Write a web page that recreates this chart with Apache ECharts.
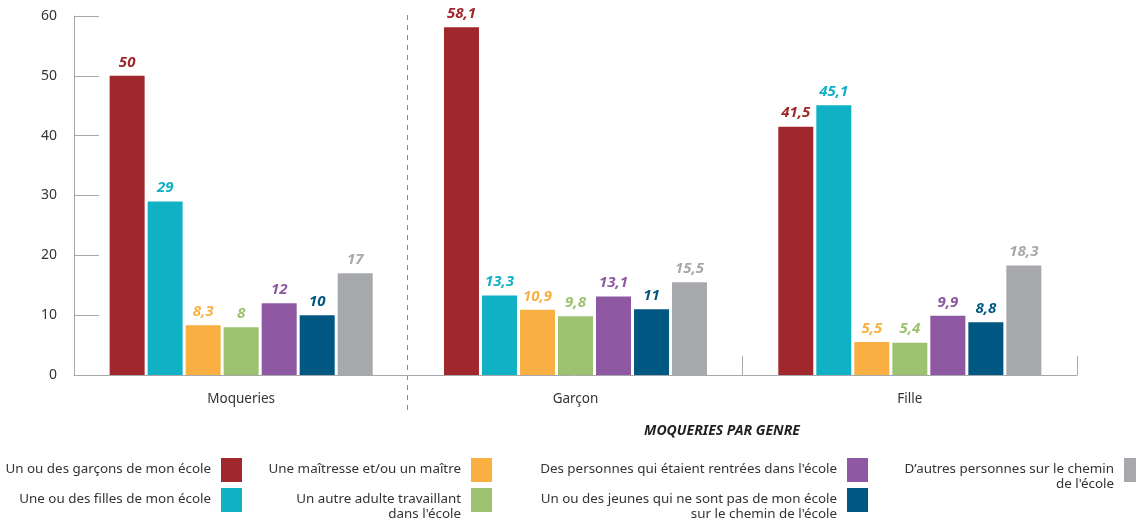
<!DOCTYPE html>
<html>
<head>
<meta charset="utf-8">
<script src="https://cdn.jsdelivr.net/npm/echarts@6/dist/echarts.min.js"></script>
<style>
  html, body { margin: 0; padding: 0; background: #fff; }
  #chart { width: 1136px; height: 520px; }
</style>
</head>
<body>
<div id="chart"></div>
<script>
const categories = ["Moqueries", "Garçon", "Fille"];

const seriesNames = [
  "Un ou des garçons de mon école",
  "Une ou des filles de mon école",
  "Une maîtresse et/ou un maître",
  "Un autre adulte travaillant\ndans l'école",
  "Des personnes qui étaient rentrées dans l'école",
  "Un ou des jeunes qui ne sont pas de mon école\nsur le chemin de l'école",
  "D’autres personnes sur le chemin\nde l'école"
];

const garcons = [50, 58.1, 41.5];
const filles = [29, 13.3, 45.1];
const maitres = [8.3, 10.9, 5.5];
const adultes = [8, 9.8, 5.4];
const intrus = [12, 13.1, 9.9];
const jeunes = [10, 11, 8.8];
const autres = [17, 15.5, 18.3];

const yTicks = [0, 10, 20, 30, 40, 50, 60];

const colors = ["#a0282d", "#10b1c5", "#f9af41", "#9dc26f", "#8e58a2", "#005782", "#a7a8ab"];
const values = [garcons, filles, maitres, adultes, intrus, jeunes, autres];

const FONT = "'Noto Sans', 'Open Sans', sans-serif";

// legend layout: column of each entry, row of each entry
const legendCol = [0, 0, 1, 1, 2, 2, 3];
const legendRow = [0, 1, 0, 1, 0, 1, 0];
const colX = [221, 471, 847, 1124];
const rowY = [458, 488];

const chart = echarts.init(document.getElementById("chart"), null, { renderer: "canvas" });

const legendGraphics = [];
seriesNames.forEach((name, i) => {
  const x = colX[legendCol[i]];
  const y = rowY[legendRow[i]];
  legendGraphics.push({
    type: "rect",
    shape: { x: x, y: y, width: 21, height: 24 },
    style: { fill: colors[i] },
    silent: true
  });
  legendGraphics.push({
    type: "text",
    x: x - 10,
    y: y + 12 - 8,
    style: {
      text: name,
      align: "right",
      verticalAlign: "top",
      lineHeight: 15,
      font: "13.4px " + FONT,
      fill: "#333"
    },
    silent: true
  });
});

const titleGraphic = {
  type: "text",
  x: 722,
  y: 431,
  style: {
    text: "MOQUERIES PAR GENRE",
    align: "center",
    verticalAlign: "middle",
    font: "italic bold 14px " + FONT,
    fill: "#231f20"
  },
  silent: true
};

const option = {
  animation: false,
  textStyle: { fontFamily: FONT },
  grid: { left: 74, right: 59, top: 16, bottom: 145, containLabel: false },
  xAxis: {
    type: "category",
    data: categories,
    axisLine: { lineStyle: { color: "#a6a8ab", width: 1 } },
    axisTick: {
      show: true,
      inside: true,
      length: 19,
      // the boundary after the first category gets the dashed separator instead
      interval: (idx) => idx !== 1,
      lineStyle: { color: "#a6a8ab" }
    },
    axisLabel: { color: "#333", fontSize: 13.5, margin: 17 }
  },
  yAxis: {
    type: "value",
    min: 0,
    max: 60,
    interval: 10,
    axisLine: { show: true, lineStyle: { color: "#a6a8ab" } },
    axisTick: { show: true, inside: true, length: 25, lineStyle: { color: "#a6a8ab" } },
    splitLine: { show: false },
    axisLabel: {
      color: "#333",
      fontSize: 14,
      margin: 17,
      formatter: (v) => (yTicks.includes(v) ? String(v) : "")
    }
  },
  series: seriesNames.map((name, i) => ({
    name: name,
    type: "bar",
    data: values[i],
    barWidth: 35,
    barGap: "8.6%",
    itemStyle: { color: colors[i] },
    label: {
      show: true,
      position: "top",
      distance: 6,
      color: colors[i],
      fontSize: 15,
      fontWeight: "bold",
      fontStyle: "italic",
      formatter: (p) => String(p.value).replace(".", ",")
    }
  })),
  graphic: legendGraphics.concat([titleGraphic])
};

chart.setOption(option);

// dashed separator between the first and second category
const x0 = chart.convertToPixel({ xAxisIndex: 0 }, categories[0]);
const x1 = chart.convertToPixel({ xAxisIndex: 0 }, categories[1]);
const sepX = Math.round((x0 + x1) / 2) - 0.5;
chart.setOption({
  graphic: legendGraphics.concat([
    titleGraphic,
    {
      type: "line",
      shape: { x1: sepX, y1: 15, x2: sepX, y2: 410 },
      style: { stroke: "#8a8c8f", lineWidth: 1, lineDash: [5, 5] },
      silent: true
    }
  ])
});
</script>
</body>
</html>
